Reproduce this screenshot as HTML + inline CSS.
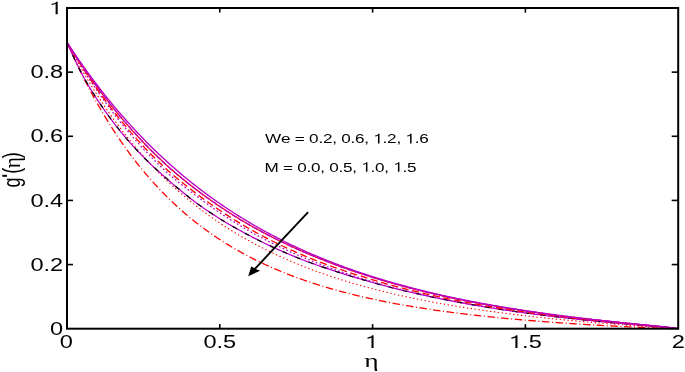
<!DOCTYPE html>
<html><head><meta charset="utf-8"><style>
html,body{margin:0;padding:0;background:#fff;}
svg{display:block;}
text{font-family:"Liberation Sans",sans-serif;fill:#000;}
text.serif{font-family:"Liberation Serif",serif;}
</style></head><body>
<svg width="685" height="372" viewBox="0 0 685 372">
<rect width="685" height="372" fill="#fff"/>
<g>
<polyline points="67.00,42.31 68.53,45.28 70.06,48.21 71.60,51.11 73.13,53.98 74.66,56.81 76.19,59.61 77.72,62.38 79.25,65.12 80.79,67.82 82.32,70.50 83.85,73.15 85.38,75.76 86.91,78.35 88.45,80.91 89.98,83.44 91.51,85.94 93.04,88.41 94.57,90.86 96.10,93.28 97.64,95.67 99.17,98.04 100.70,100.37 102.23,102.69 103.76,104.98 105.30,107.24 106.83,109.48 108.36,111.69 109.89,113.88 111.42,116.04 112.95,118.19 114.49,120.30 116.02,122.40 117.55,124.47 119.08,126.52 120.61,128.55 122.15,130.55 123.68,132.54 125.21,134.50 126.74,136.44 128.27,138.36 129.81,140.26 131.34,142.14 132.87,144.00 134.40,145.83 135.93,147.65 137.46,149.45 139.00,151.23 140.53,153.00 142.06,154.74 143.59,156.46 145.12,158.17 146.66,159.86 148.19,161.52 149.72,163.18 151.25,164.81 152.78,166.43 154.31,168.03 155.85,169.61 157.38,171.18 158.91,172.73 160.44,174.26 161.97,175.78 163.51,177.28 165.04,178.77 166.57,180.24 168.10,181.70 169.63,183.14 171.16,184.56 172.70,185.98 174.23,187.37 175.76,188.75 177.29,190.12 178.82,191.47 180.36,192.81 181.89,194.14 183.42,195.45 184.95,196.75 186.48,198.04 188.01,199.31 189.55,200.57 191.08,201.81 192.61,203.05 194.14,204.27 195.67,205.48 197.21,206.67 198.74,207.86 200.27,209.03 201.80,210.19 203.33,211.34 204.86,212.48 206.40,213.60 207.93,214.72 209.46,215.82 210.99,216.91 212.52,217.99 214.06,219.06 215.59,220.12 217.12,221.17 218.65,222.21 220.18,223.24 221.71,224.26 223.25,225.27 224.78,226.26 226.31,227.25 227.84,228.23 229.37,229.20 230.91,230.16 232.44,231.11 233.97,232.05 235.50,232.98 237.03,233.90 238.56,234.81 240.10,235.72 241.63,236.61 243.16,237.50 244.69,238.38 246.22,239.25 247.76,240.11 249.29,240.96 250.82,241.80 252.35,242.64 253.88,243.47 255.42,244.29 256.95,245.10 258.48,245.90 260.01,246.70 261.54,247.49 263.07,248.27 264.61,249.04 266.14,249.81 267.67,250.57 269.20,251.32 270.73,252.06 272.27,252.80 273.80,253.53 275.33,254.25 276.86,254.97 278.39,255.68 279.92,256.38 281.46,257.08 282.99,257.77 284.52,258.45 286.05,259.13 287.58,259.80 289.12,260.46 290.65,261.12 292.18,261.77 293.71,262.42 295.24,263.06 296.77,263.69 298.31,264.32 299.84,264.94 301.37,265.55 302.90,266.16 304.43,266.77 305.97,267.37 307.50,267.96 309.03,268.55 310.56,269.13 312.09,269.71 313.62,270.28 315.16,270.85 316.69,271.41 318.22,271.96 319.75,272.51 321.28,273.06 322.82,273.60 324.35,274.14 325.88,274.67 327.41,275.19 328.94,275.72 330.47,276.23 332.01,276.74 333.54,277.25 335.07,277.75 336.60,278.25 338.13,278.75 339.67,279.23 341.20,279.72 342.73,280.20 344.26,280.68 345.79,281.15 347.32,281.61 348.86,282.08 350.39,282.54 351.92,282.99 353.45,283.44 354.98,283.89 356.52,284.33 358.05,284.77 359.58,285.21 361.11,285.64 362.64,286.07 364.17,286.49 365.71,286.91 367.24,287.32 368.77,287.74 370.30,288.15 371.83,288.55 373.37,288.95 374.90,289.35 376.43,289.75 377.96,290.14 379.49,290.52 381.03,290.91 382.56,291.29 384.09,291.67 385.62,292.04 387.15,292.41 388.68,292.78 390.22,293.15 391.75,293.51 393.28,293.86 394.81,294.22 396.34,294.57 397.88,294.92 399.41,295.27 400.94,295.61 402.47,295.95 404.00,296.29 405.53,296.62 407.07,296.95 408.60,297.28 410.13,297.61 411.66,297.93 413.19,298.25 414.73,298.57 416.26,298.89 417.79,299.20 419.32,299.51 420.85,299.81 422.38,300.12 423.92,300.42 425.45,300.72 426.98,301.02 428.51,301.31 430.04,301.60 431.58,301.89 433.11,302.18 434.64,302.46 436.17,302.75 437.70,303.03 439.23,303.30 440.77,303.58 442.30,303.85 443.83,304.12 445.36,304.39 446.89,304.66 448.43,304.92 449.96,305.18 451.49,305.44 453.02,305.70 454.55,305.95 456.08,306.21 457.62,306.46 459.15,306.71 460.68,306.96 462.21,307.20 463.74,307.44 465.28,307.69 466.81,307.92 468.34,308.16 469.87,308.40 471.40,308.63 472.93,308.86 474.47,309.09 476.00,309.32 477.53,309.55 479.06,309.77 480.59,309.99 482.13,310.21 483.66,310.43 485.19,310.65 486.72,310.86 488.25,311.08 489.78,311.29 491.32,311.50 492.85,311.71 494.38,311.92 495.91,312.12 497.44,312.33 498.98,312.53 500.51,312.73 502.04,312.93 503.57,313.13 505.10,313.32 506.64,313.52 508.17,313.71 509.70,313.90 511.23,314.09 512.76,314.28 514.29,314.47 515.83,314.65 517.36,314.84 518.89,315.02 520.42,315.20 521.95,315.38 523.49,315.56 525.02,315.74 526.55,315.91 528.08,316.09 529.61,316.26 531.14,316.43 532.68,316.60 534.21,316.77 535.74,316.94 537.27,317.11 538.80,317.27 540.34,317.44 541.87,317.60 543.40,317.76 544.93,317.92 546.46,318.08 547.99,318.24 549.53,318.40 551.06,318.56 552.59,318.71 554.12,318.86 555.65,319.02 557.19,319.17 558.72,319.32 560.25,319.47 561.78,319.62 563.31,319.76 564.84,319.91 566.38,320.06 567.91,320.20 569.44,320.34 570.97,320.49 572.50,320.63 574.04,320.77 575.57,320.91 577.10,321.05 578.63,321.18 580.16,321.32 581.69,321.45 583.23,321.59 584.76,321.72 586.29,321.86 587.82,321.99 589.35,322.12 590.89,322.25 592.42,322.38 593.95,322.51 595.48,322.63 597.01,322.76 598.54,322.88 600.08,323.01 601.61,323.13 603.14,323.26 604.67,323.38 606.20,323.50 607.74,323.62 609.27,323.74 610.80,323.86 612.33,323.98 613.86,324.10 615.39,324.22 616.93,324.33 618.46,324.45 619.99,324.56 621.52,324.68 623.05,324.79 624.59,324.91 626.12,325.02 627.65,325.13 629.18,325.24 630.71,325.35 632.25,325.46 633.78,325.57 635.31,325.68 636.84,325.79 638.37,325.90 639.90,326.00 641.44,326.11 642.97,326.22 644.50,326.32 646.03,326.43 647.56,326.53 649.10,326.64 650.63,326.74 652.16,326.84 653.69,326.95 655.22,327.05 656.75,327.15 658.29,327.26 659.82,327.36 661.35,327.46 662.88,327.57 664.41,327.67 665.95,327.77 667.48,327.88 669.01,327.98 670.54,328.09 672.07,328.19 673.60,328.30 675.14,328.42 676.67,328.54 678.20,328.70" fill="none" stroke="#ff0000" stroke-width="1.2" stroke-dasharray="0.35 3.55" stroke-linecap="round" stroke-linejoin="round"/>
<polyline points="67.00,42.31 68.53,45.81 70.06,49.26 71.60,52.66 73.13,56.02 74.66,59.33 76.19,62.60 77.72,65.83 79.25,69.01 80.79,72.16 82.32,75.26 83.85,78.32 85.38,81.34 86.91,84.32 88.45,87.26 89.98,90.16 91.51,93.03 93.04,95.85 94.57,98.64 96.10,101.40 97.64,104.12 99.17,106.80 100.70,109.45 102.23,112.06 103.76,114.64 105.30,117.19 106.83,119.70 108.36,122.19 109.89,124.64 111.42,127.05 112.95,129.44 114.49,131.80 116.02,134.12 117.55,136.42 119.08,138.69 120.61,140.93 122.15,143.14 123.68,145.32 125.21,147.47 126.74,149.60 128.27,151.70 129.81,153.77 131.34,155.82 132.87,157.84 134.40,159.83 135.93,161.80 137.46,163.75 139.00,165.67 140.53,167.56 142.06,169.44 143.59,171.28 145.12,173.11 146.66,174.91 148.19,176.69 149.72,178.45 151.25,180.19 152.78,181.90 154.31,183.60 155.85,185.27 157.38,186.92 158.91,188.55 160.44,190.16 161.97,191.75 163.51,193.32 165.04,194.88 166.57,196.41 168.10,197.92 169.63,199.42 171.16,200.89 172.70,202.35 174.23,203.79 175.76,205.22 177.29,206.62 178.82,208.01 180.36,209.38 181.89,210.74 183.42,212.08 184.95,213.40 186.48,214.70 188.01,215.99 189.55,217.27 191.08,218.53 192.61,219.77 194.14,221.00 195.67,222.22 197.21,223.42 198.74,224.60 200.27,225.77 201.80,226.93 203.33,228.07 204.86,229.20 206.40,230.32 207.93,231.42 209.46,232.51 210.99,233.59 212.52,234.65 214.06,235.70 215.59,236.74 217.12,237.77 218.65,238.78 220.18,239.78 221.71,240.77 223.25,241.75 224.78,242.72 226.31,243.68 227.84,244.62 229.37,245.55 230.91,246.48 232.44,247.39 233.97,248.29 235.50,249.18 237.03,250.06 238.56,250.93 240.10,251.79 241.63,252.64 243.16,253.48 244.69,254.31 246.22,255.13 247.76,255.94 249.29,256.75 250.82,257.54 252.35,258.32 253.88,259.10 255.42,259.86 256.95,260.62 258.48,261.37 260.01,262.11 261.54,262.84 263.07,263.56 264.61,264.28 266.14,264.99 267.67,265.68 269.20,266.37 270.73,267.06 272.27,267.73 273.80,268.40 275.33,269.06 276.86,269.71 278.39,270.36 279.92,271.00 281.46,271.63 282.99,272.25 284.52,272.87 286.05,273.48 287.58,274.08 289.12,274.68 290.65,275.27 292.18,275.85 293.71,276.43 295.24,277.00 296.77,277.56 298.31,278.12 299.84,278.67 301.37,279.22 302.90,279.76 304.43,280.29 305.97,280.82 307.50,281.34 309.03,281.86 310.56,282.37 312.09,282.88 313.62,283.38 315.16,283.87 316.69,284.36 318.22,284.84 319.75,285.32 321.28,285.80 322.82,286.27 324.35,286.73 325.88,287.19 327.41,287.64 328.94,288.09 330.47,288.53 332.01,288.97 333.54,289.41 335.07,289.84 336.60,290.26 338.13,290.68 339.67,291.10 341.20,291.51 342.73,291.92 344.26,292.32 345.79,292.72 347.32,293.11 348.86,293.50 350.39,293.89 351.92,294.27 353.45,294.65 354.98,295.02 356.52,295.39 358.05,295.76 359.58,296.12 361.11,296.48 362.64,296.84 364.17,297.19 365.71,297.54 367.24,297.88 368.77,298.22 370.30,298.56 371.83,298.89 373.37,299.23 374.90,299.55 376.43,299.88 377.96,300.20 379.49,300.51 381.03,300.83 382.56,301.14 384.09,301.45 385.62,301.75 387.15,302.05 388.68,302.35 390.22,302.65 391.75,302.94 393.28,303.23 394.81,303.52 396.34,303.80 397.88,304.08 399.41,304.36 400.94,304.63 402.47,304.91 404.00,305.18 405.53,305.44 407.07,305.71 408.60,305.97 410.13,306.23 411.66,306.49 413.19,306.74 414.73,306.99 416.26,307.24 417.79,307.49 419.32,307.73 420.85,307.98 422.38,308.22 423.92,308.45 425.45,308.69 426.98,308.92 428.51,309.15 430.04,309.38 431.58,309.61 433.11,309.83 434.64,310.06 436.17,310.28 437.70,310.49 439.23,310.71 440.77,310.92 442.30,311.14 443.83,311.35 445.36,311.55 446.89,311.76 448.43,311.96 449.96,312.17 451.49,312.37 453.02,312.56 454.55,312.76 456.08,312.95 457.62,313.15 459.15,313.34 460.68,313.53 462.21,313.72 463.74,313.90 465.28,314.09 466.81,314.27 468.34,314.45 469.87,314.63 471.40,314.81 472.93,314.98 474.47,315.16 476.00,315.33 477.53,315.50 479.06,315.67 480.59,315.84 482.13,316.00 483.66,316.17 485.19,316.33 486.72,316.50 488.25,316.66 489.78,316.82 491.32,316.97 492.85,317.13 494.38,317.29 495.91,317.44 497.44,317.59 498.98,317.74 500.51,317.89 502.04,318.04 503.57,318.19 505.10,318.34 506.64,318.48 508.17,318.62 509.70,318.77 511.23,318.91 512.76,319.05 514.29,319.19 515.83,319.32 517.36,319.46 518.89,319.59 520.42,319.73 521.95,319.86 523.49,319.99 525.02,320.12 526.55,320.25 528.08,320.38 529.61,320.51 531.14,320.63 532.68,320.76 534.21,320.88 535.74,321.01 537.27,321.13 538.80,321.25 540.34,321.37 541.87,321.49 543.40,321.61 544.93,321.72 546.46,321.84 547.99,321.95 549.53,322.07 551.06,322.18 552.59,322.29 554.12,322.41 555.65,322.52 557.19,322.63 558.72,322.73 560.25,322.84 561.78,322.95 563.31,323.06 564.84,323.16 566.38,323.26 567.91,323.37 569.44,323.47 570.97,323.57 572.50,323.67 574.04,323.77 575.57,323.87 577.10,323.97 578.63,324.07 580.16,324.17 581.69,324.26 583.23,324.36 584.76,324.45 586.29,324.55 587.82,324.64 589.35,324.73 590.89,324.82 592.42,324.91 593.95,325.00 595.48,325.09 597.01,325.18 598.54,325.27 600.08,325.35 601.61,325.44 603.14,325.53 604.67,325.61 606.20,325.70 607.74,325.78 609.27,325.86 610.80,325.94 612.33,326.02 613.86,326.10 615.39,326.18 616.93,326.26 618.46,326.34 619.99,326.42 621.52,326.50 623.05,326.57 624.59,326.65 626.12,326.72 627.65,326.80 629.18,326.87 630.71,326.94 632.25,327.01 633.78,327.08 635.31,327.15 636.84,327.22 638.37,327.29 639.90,327.36 641.44,327.43 642.97,327.49 644.50,327.56 646.03,327.62 647.56,327.69 649.10,327.75 650.63,327.81 652.16,327.87 653.69,327.93 655.22,327.99 656.75,328.05 658.29,328.11 659.82,328.16 661.35,328.22 662.88,328.27 664.41,328.32 665.95,328.37 667.48,328.42 669.01,328.47 670.54,328.52 672.07,328.56 673.60,328.60 675.14,328.64 676.67,328.67 678.20,328.70" fill="none" stroke="#ff0000" stroke-width="1.3" stroke-dasharray="7.5 2.6 1 2.6" stroke-linecap="butt" stroke-linejoin="round"/>
<polyline points="67.00,42.31 68.53,45.81 70.06,49.24 71.60,52.62 73.13,55.94 74.66,59.20 76.19,62.40 77.72,65.54 79.25,68.62 80.79,71.64 82.32,74.58 83.85,77.44 85.38,80.22 86.91,82.91 88.45,85.53 89.98,88.08 91.51,90.57 93.04,93.00 94.57,95.38 96.10,97.72 97.64,100.03 99.17,102.33 100.70,104.63 102.23,106.89 103.76,109.11 105.30,111.31 106.83,113.46 108.36,115.59 109.89,117.68 111.42,119.74 112.95,121.78 114.49,123.78 116.02,125.76 117.55,127.70 119.08,129.63 120.61,131.52 122.15,133.39 123.68,135.24 125.21,137.06 126.74,138.86 128.27,140.63 129.81,142.38 131.34,144.11 132.87,145.82 134.40,147.50 135.93,149.17 137.46,150.81 139.00,152.43 140.53,154.03 142.06,155.61 143.59,157.17 145.12,158.71 146.66,160.23 148.19,161.73 149.72,163.21 151.25,164.67 152.78,166.11 154.31,167.53 155.85,168.94 157.38,170.33 158.91,171.71 160.44,173.08 161.97,174.44 163.51,175.80 165.04,177.16 166.57,178.51 168.10,179.87 169.63,181.21 171.16,182.55 172.70,183.87 174.23,185.19 175.76,186.49 177.29,187.78 178.82,189.07 180.36,190.34 181.89,191.60 183.42,192.85 184.95,194.09 186.48,195.31 188.01,196.53 189.55,197.73 191.08,198.91 192.61,200.09 194.14,201.25 195.67,202.39 197.21,203.52 198.74,204.64 200.27,205.74 201.80,206.83 203.33,207.91 204.86,208.97 206.40,210.02 207.93,211.06 209.46,212.09 210.99,213.10 212.52,214.11 214.06,215.10 215.59,216.08 217.12,217.06 218.65,218.02 220.18,218.97 221.71,219.92 223.25,220.85 224.78,221.77 226.31,222.69 227.84,223.60 229.37,224.50 230.91,225.39 232.44,226.27 233.97,227.14 235.50,228.01 237.03,228.87 238.56,229.72 240.10,230.56 241.63,231.40 243.16,232.23 244.69,233.06 246.22,233.88 247.76,234.69 249.29,235.50 250.82,236.30 252.35,237.09 253.88,237.88 255.42,238.66 256.95,239.43 258.48,240.20 260.01,240.97 261.54,241.72 263.07,242.47 264.61,243.22 266.14,243.95 267.67,244.68 269.20,245.41 270.73,246.13 272.27,246.84 273.80,247.55 275.33,248.25 276.86,248.95 278.39,249.64 279.92,250.32 281.46,251.00 282.99,251.67 284.52,252.33 286.05,252.99 287.58,253.65 289.12,254.29 290.65,254.94 292.18,255.57 293.71,256.20 295.24,256.83 296.77,257.45 298.31,258.06 299.84,258.67 301.37,259.27 302.90,259.87 304.43,260.46 305.97,261.05 307.50,261.62 309.03,262.20 310.56,262.77 312.09,263.33 313.62,263.89 315.16,264.44 316.69,264.99 318.22,265.53 319.75,266.07 321.28,266.60 322.82,267.13 324.35,267.65 325.88,268.17 327.41,268.69 328.94,269.20 330.47,269.71 332.01,270.21 333.54,270.71 335.07,271.21 336.60,271.70 338.13,272.19 339.67,272.68 341.20,273.16 342.73,273.64 344.26,274.12 345.79,274.59 347.32,275.06 348.86,275.53 350.39,276.00 351.92,276.46 353.45,276.92 354.98,277.38 356.52,277.83 358.05,278.28 359.58,278.73 361.11,279.18 362.64,279.63 364.17,280.07 365.71,280.51 367.24,280.95 368.77,281.39 370.30,281.82 371.83,282.26 373.37,282.69 374.90,283.11 376.43,283.54 377.96,283.96 379.49,284.38 381.03,284.79 382.56,285.20 384.09,285.61 385.62,286.02 387.15,286.42 388.68,286.82 390.22,287.21 391.75,287.61 393.28,288.00 394.81,288.38 396.34,288.77 397.88,289.15 399.41,289.53 400.94,289.91 402.47,290.28 404.00,290.65 405.53,291.02 407.07,291.38 408.60,291.74 410.13,292.10 411.66,292.46 413.19,292.82 414.73,293.17 416.26,293.52 417.79,293.87 419.32,294.21 420.85,294.55 422.38,294.89 423.92,295.23 425.45,295.57 426.98,295.90 428.51,296.23 430.04,296.56 431.58,296.88 433.11,297.21 434.64,297.53 436.17,297.85 437.70,298.17 439.23,298.48 440.77,298.79 442.30,299.10 443.83,299.41 445.36,299.72 446.89,300.02 448.43,300.33 449.96,300.63 451.49,300.93 453.02,301.22 454.55,301.52 456.08,301.81 457.62,302.10 459.15,302.38 460.68,302.67 462.21,302.95 463.74,303.23 465.28,303.51 466.81,303.79 468.34,304.06 469.87,304.33 471.40,304.60 472.93,304.87 474.47,305.14 476.00,305.40 477.53,305.66 479.06,305.92 480.59,306.18 482.13,306.44 483.66,306.69 485.19,306.94 486.72,307.19 488.25,307.44 489.78,307.69 491.32,307.93 492.85,308.17 494.38,308.42 495.91,308.65 497.44,308.89 498.98,309.13 500.51,309.36 502.04,309.59 503.57,309.82 505.10,310.05 506.64,310.28 508.17,310.50 509.70,310.73 511.23,310.95 512.76,311.17 514.29,311.39 515.83,311.61 517.36,311.82 518.89,312.04 520.42,312.25 521.95,312.46 523.49,312.67 525.02,312.88 526.55,313.08 528.08,313.29 529.61,313.49 531.14,313.69 532.68,313.89 534.21,314.09 535.74,314.29 537.27,314.49 538.80,314.68 540.34,314.87 541.87,315.07 543.40,315.26 544.93,315.45 546.46,315.63 547.99,315.82 549.53,316.01 551.06,316.19 552.59,316.37 554.12,316.55 555.65,316.73 557.19,316.91 558.72,317.09 560.25,317.27 561.78,317.44 563.31,317.62 564.84,317.79 566.38,317.96 567.91,318.13 569.44,318.30 570.97,318.47 572.50,318.64 574.04,318.81 575.57,318.97 577.10,319.14 578.63,319.30 580.16,319.46 581.69,319.62 583.23,319.78 584.76,319.94 586.29,320.10 587.82,320.26 589.35,320.41 590.89,320.57 592.42,320.72 593.95,320.88 595.48,321.03 597.01,321.18 598.54,321.33 600.08,321.48 601.61,321.63 603.14,321.78 604.67,321.92 606.20,322.07 607.74,322.22 609.27,322.36 610.80,322.51 612.33,322.65 613.86,322.79 615.39,322.93 616.93,323.07 618.46,323.21 619.99,323.35 621.52,323.49 623.05,323.63 624.59,323.77 626.12,323.91 627.65,324.04 629.18,324.18 630.71,324.31 632.25,324.45 633.78,324.58 635.31,324.72 636.84,324.85 638.37,324.99 639.90,325.12 641.44,325.25 642.97,325.38 644.50,325.52 646.03,325.65 647.56,325.78 649.10,325.91 650.63,326.04 652.16,326.17 653.69,326.31 655.22,326.44 656.75,326.57 658.29,326.70 659.82,326.84 661.35,326.97 662.88,327.11 664.41,327.24 665.95,327.38 667.48,327.52 669.01,327.66 670.54,327.81 672.07,327.95 673.60,328.11 675.14,328.27 676.67,328.45 678.20,328.70" fill="none" stroke="#b800c4" stroke-width="1.25" stroke-linecap="butt" stroke-linejoin="round"/>
<polyline points="67.00,42.31 68.53,45.81 70.06,49.24 71.60,52.62 73.13,55.94 74.66,59.20 76.19,62.40 77.72,65.54 79.25,68.62 80.79,71.64 82.32,74.58 83.85,77.44 85.38,80.22 86.91,82.91 88.45,85.53 89.98,88.08 91.51,90.57 93.04,93.00 94.57,95.38 96.10,97.72 97.64,100.03 99.17,102.33 100.70,104.63 102.23,106.89 103.76,109.11 105.30,111.31 106.83,113.46 108.36,115.59 109.89,117.68 111.42,119.74 112.95,121.78 114.49,123.78 116.02,125.76 117.55,127.70 119.08,129.63 120.61,131.52 122.15,133.39 123.68,135.24 125.21,137.06 126.74,138.86 128.27,140.63 129.81,142.38 131.34,144.11 132.87,145.82 134.40,147.50 135.93,149.17 137.46,150.81 139.00,152.43 140.53,154.03 142.06,155.61 143.59,157.17 145.12,158.71 146.66,160.23 148.19,161.73 149.72,163.21 151.25,164.67 152.78,166.11 154.31,167.53 155.85,168.94 157.38,170.33 158.91,171.71 160.44,173.08 161.97,174.44 163.51,175.80 165.04,177.16 166.57,178.51 168.10,179.87 169.63,181.21 171.16,182.55 172.70,183.87 174.23,185.19 175.76,186.49 177.29,187.78 178.82,189.07 180.36,190.34 181.89,191.60 183.42,192.85 184.95,194.09 186.48,195.31 188.01,196.53 189.55,197.73 191.08,198.91 192.61,200.09 194.14,201.25 195.67,202.39 197.21,203.52 198.74,204.64 200.27,205.74 201.80,206.83 203.33,207.91 204.86,208.97 206.40,210.02 207.93,211.06 209.46,212.09 210.99,213.10 212.52,214.11 214.06,215.10 215.59,216.08 217.12,217.06 218.65,218.02 220.18,218.97 221.71,219.92 223.25,220.85 224.78,221.77 226.31,222.69 227.84,223.60 229.37,224.50 230.91,225.39 232.44,226.27 233.97,227.14 235.50,228.01 237.03,228.87 238.56,229.72 240.10,230.56 241.63,231.40 243.16,232.23 244.69,233.06 246.22,233.88 247.76,234.69 249.29,235.50 250.82,236.30 252.35,237.09 253.88,237.88 255.42,238.66 256.95,239.43 258.48,240.20 260.01,240.97 261.54,241.72 263.07,242.47 264.61,243.22 266.14,243.95 267.67,244.68 269.20,245.41 270.73,246.13 272.27,246.84 273.80,247.55 275.33,248.25 276.86,248.95 278.39,249.64 279.92,250.32 281.46,251.00 282.99,251.67 284.52,252.33 286.05,252.99 287.58,253.65 289.12,254.29 290.65,254.94 292.18,255.57 293.71,256.20 295.24,256.83 296.77,257.45 298.31,258.06 299.84,258.67 301.37,259.27 302.90,259.87 304.43,260.46 305.97,261.05 307.50,261.62 309.03,262.20 310.56,262.77 312.09,263.33 313.62,263.89 315.16,264.44 316.69,264.99 318.22,265.53 319.75,266.07 321.28,266.60 322.82,267.13 324.35,267.65 325.88,268.17 327.41,268.69 328.94,269.20 330.47,269.71 332.01,270.21 333.54,270.71 335.07,271.21 336.60,271.70 338.13,272.19 339.67,272.68 341.20,273.16 342.73,273.64 344.26,274.12 345.79,274.59 347.32,275.06 348.86,275.53 350.39,276.00 351.92,276.46 353.45,276.92 354.98,277.38 356.52,277.83 358.05,278.28 359.58,278.73 361.11,279.18 362.64,279.63 364.17,280.07 365.71,280.51 367.24,280.95 368.77,281.39 370.30,281.82 371.83,282.26 373.37,282.69 374.90,283.11 376.43,283.54 377.96,283.96 379.49,284.38 381.03,284.79 382.56,285.20 384.09,285.61 385.62,286.02 387.15,286.42 388.68,286.82 390.22,287.21 391.75,287.61 393.28,288.00 394.81,288.38 396.34,288.77 397.88,289.15 399.41,289.53 400.94,289.91 402.47,290.28 404.00,290.65 405.53,291.02 407.07,291.38 408.60,291.74 410.13,292.10 411.66,292.46 413.19,292.82 414.73,293.17 416.26,293.52 417.79,293.87 419.32,294.21 420.85,294.55 422.38,294.89 423.92,295.23 425.45,295.57 426.98,295.90 428.51,296.23 430.04,296.56 431.58,296.88 433.11,297.21 434.64,297.53 436.17,297.85 437.70,298.17 439.23,298.48 440.77,298.79 442.30,299.10 443.83,299.41 445.36,299.72 446.89,300.02 448.43,300.33 449.96,300.63 451.49,300.93 453.02,301.22 454.55,301.52 456.08,301.81 457.62,302.10 459.15,302.38 460.68,302.67 462.21,302.95 463.74,303.23 465.28,303.51 466.81,303.79 468.34,304.06 469.87,304.33 471.40,304.60 472.93,304.87 474.47,305.14 476.00,305.40 477.53,305.66 479.06,305.92 480.59,306.18 482.13,306.44 483.66,306.69 485.19,306.94 486.72,307.19 488.25,307.44 489.78,307.69 491.32,307.93 492.85,308.17 494.38,308.42 495.91,308.65 497.44,308.89 498.98,309.13 500.51,309.36 502.04,309.59 503.57,309.82 505.10,310.05 506.64,310.28 508.17,310.50 509.70,310.73 511.23,310.95 512.76,311.17 514.29,311.39 515.83,311.61 517.36,311.82 518.89,312.04 520.42,312.25 521.95,312.46 523.49,312.67 525.02,312.88 526.55,313.08 528.08,313.29 529.61,313.49 531.14,313.69 532.68,313.89 534.21,314.09 535.74,314.29 537.27,314.49 538.80,314.68 540.34,314.87 541.87,315.07 543.40,315.26 544.93,315.45 546.46,315.63 547.99,315.82 549.53,316.01 551.06,316.19 552.59,316.37 554.12,316.55 555.65,316.73 557.19,316.91 558.72,317.09 560.25,317.27 561.78,317.44 563.31,317.62 564.84,317.79 566.38,317.96 567.91,318.13 569.44,318.30 570.97,318.47 572.50,318.64 574.04,318.81 575.57,318.97 577.10,319.14 578.63,319.30 580.16,319.46 581.69,319.62 583.23,319.78 584.76,319.94 586.29,320.10 587.82,320.26 589.35,320.41 590.89,320.57 592.42,320.72 593.95,320.88 595.48,321.03 597.01,321.18 598.54,321.33 600.08,321.48 601.61,321.63 603.14,321.78 604.67,321.92 606.20,322.07 607.74,322.22 609.27,322.36 610.80,322.51 612.33,322.65 613.86,322.79 615.39,322.93 616.93,323.07 618.46,323.21 619.99,323.35 621.52,323.49 623.05,323.63 624.59,323.77 626.12,323.91 627.65,324.04 629.18,324.18 630.71,324.31 632.25,324.45 633.78,324.58 635.31,324.72 636.84,324.85 638.37,324.99 639.90,325.12 641.44,325.25 642.97,325.38 644.50,325.52 646.03,325.65 647.56,325.78 649.10,325.91 650.63,326.04 652.16,326.17 653.69,326.31 655.22,326.44 656.75,326.57 658.29,326.70 659.82,326.84 661.35,326.97 662.88,327.11 664.41,327.24 665.95,327.38 667.48,327.52 669.01,327.66 670.54,327.81 672.07,327.95 673.60,328.11 675.14,328.27 676.67,328.45 678.20,328.70" fill="none" stroke="#000" stroke-width="1.2" stroke-dasharray="5 9" stroke-linecap="butt" stroke-linejoin="round"/>
<polyline points="67.00,42.31 68.53,45.02 70.06,47.69 71.60,50.33 73.13,52.95 74.66,55.55 76.19,58.11 77.72,60.65 79.25,63.17 80.79,65.66 82.32,68.12 83.85,70.56 85.38,72.98 86.91,75.37 88.45,77.73 89.98,80.08 91.51,82.40 93.04,84.69 94.57,86.97 96.10,89.22 97.64,91.45 99.17,93.65 100.70,95.84 102.23,98.00 103.76,100.14 105.30,102.26 106.83,104.36 108.36,106.44 109.89,108.50 111.42,110.54 112.95,112.56 114.49,114.56 116.02,116.54 117.55,118.50 119.08,120.44 120.61,122.36 122.15,124.26 123.68,126.15 125.21,128.01 126.74,129.86 128.27,131.69 129.81,133.50 131.34,135.30 132.87,137.08 134.40,138.84 135.93,140.58 137.46,142.31 139.00,144.02 140.53,145.71 142.06,147.39 143.59,149.05 145.12,150.70 146.66,152.33 148.19,153.94 149.72,155.54 151.25,157.12 152.78,158.69 154.31,160.25 155.85,161.78 157.38,163.31 158.91,164.82 160.44,166.31 161.97,167.79 163.51,169.23 165.04,170.65 166.57,172.04 168.10,173.41 169.63,174.76 171.16,176.09 172.70,177.40 174.23,178.68 175.76,179.95 177.29,181.21 178.82,182.45 180.36,183.67 181.89,184.88 183.42,186.08 184.95,187.27 186.48,188.45 188.01,189.62 189.55,190.78 191.08,191.94 192.61,193.09 194.14,194.24 195.67,195.39 197.21,196.54 198.74,197.69 200.27,198.84 201.80,199.98 203.33,201.11 204.86,202.24 206.40,203.35 207.93,204.46 209.46,205.56 210.99,206.65 212.52,207.72 214.06,208.79 215.59,209.85 217.12,210.91 218.65,211.95 220.18,212.98 221.71,214.01 223.25,215.03 224.78,216.03 226.31,217.03 227.84,218.02 229.37,219.01 230.91,219.98 232.44,220.95 233.97,221.90 235.50,222.85 237.03,223.79 238.56,224.72 240.10,225.64 241.63,226.56 243.16,227.47 244.69,228.36 246.22,229.25 247.76,230.14 249.29,231.01 250.82,231.88 252.35,232.73 253.88,233.58 255.42,234.43 256.95,235.26 258.48,236.09 260.01,236.91 261.54,237.72 263.07,238.53 264.61,239.33 266.14,240.12 267.67,240.91 269.20,241.69 270.73,242.46 272.27,243.22 273.80,243.98 275.33,244.73 276.86,245.48 278.39,246.22 279.92,246.95 281.46,247.68 282.99,248.40 284.52,249.11 286.05,249.82 287.58,250.52 289.12,251.22 290.65,251.91 292.18,252.59 293.71,253.27 295.24,253.94 296.77,254.61 298.31,255.27 299.84,255.93 301.37,256.58 302.90,257.23 304.43,257.87 305.97,258.50 307.50,259.13 309.03,259.76 310.56,260.38 312.09,260.99 313.62,261.60 315.16,262.21 316.69,262.81 318.22,263.40 319.75,263.99 321.28,264.58 322.82,265.16 324.35,265.74 325.88,266.31 327.41,266.88 328.94,267.44 330.47,268.00 332.01,268.55 333.54,269.10 335.07,269.65 336.60,270.19 338.13,270.73 339.67,271.26 341.20,271.79 342.73,272.32 344.26,272.84 345.79,273.36 347.32,273.87 348.86,274.38 350.39,274.89 351.92,275.39 353.45,275.88 354.98,276.38 356.52,276.87 358.05,277.35 359.58,277.84 361.11,278.31 362.64,278.79 364.17,279.26 365.71,279.72 367.24,280.19 368.77,280.64 370.30,281.10 371.83,281.55 373.37,282.00 374.90,282.44 376.43,282.88 377.96,283.32 379.49,283.75 381.03,284.18 382.56,284.61 384.09,285.03 385.62,285.45 387.15,285.87 388.68,286.28 390.22,286.69 391.75,287.10 393.28,287.50 394.81,287.90 396.34,288.30 397.88,288.70 399.41,289.09 400.94,289.47 402.47,289.86 404.00,290.24 405.53,290.62 407.07,290.99 408.60,291.37 410.13,291.74 411.66,292.10 413.19,292.47 414.73,292.83 416.26,293.19 417.79,293.54 419.32,293.89 420.85,294.24 422.38,294.59 423.92,294.94 425.45,295.28 426.98,295.62 428.51,295.95 430.04,296.29 431.58,296.62 433.11,296.95 434.64,297.27 436.17,297.60 437.70,297.92 439.23,298.24 440.77,298.55 442.30,298.87 443.83,299.18 445.36,299.49 446.89,299.79 448.43,300.10 449.96,300.40 451.49,300.70 453.02,300.99 454.55,301.29 456.08,301.58 457.62,301.87 459.15,302.16 460.68,302.45 462.21,302.73 463.74,303.01 465.28,303.29 466.81,303.57 468.34,303.84 469.87,304.12 471.40,304.39 472.93,304.66 474.47,304.92 476.00,305.19 477.53,305.45 479.06,305.71 480.59,305.97 482.13,306.23 483.66,306.48 485.19,306.74 486.72,306.99 488.25,307.24 489.78,307.49 491.32,307.73 492.85,307.98 494.38,308.22 495.91,308.46 497.44,308.70 498.98,308.93 500.51,309.17 502.04,309.40 503.57,309.63 505.10,309.86 506.64,310.09 508.17,310.32 509.70,310.54 511.23,310.77 512.76,310.99 514.29,311.21 515.83,311.43 517.36,311.64 518.89,311.86 520.42,312.07 521.95,312.29 523.49,312.50 525.02,312.71 526.55,312.91 528.08,313.12 529.61,313.32 531.14,313.53 532.68,313.73 534.21,313.93 535.74,314.13 537.27,314.33 538.80,314.52 540.34,314.72 541.87,314.91 543.40,315.10 544.93,315.29 546.46,315.48 547.99,315.67 549.53,315.86 551.06,316.04 552.59,316.23 554.12,316.41 555.65,316.59 557.19,316.77 558.72,316.95 560.25,317.13 561.78,317.31 563.31,317.48 564.84,317.66 566.38,317.83 567.91,318.00 569.44,318.18 570.97,318.35 572.50,318.51 574.04,318.68 575.57,318.85 577.10,319.02 578.63,319.18 580.16,319.34 581.69,319.51 583.23,319.67 584.76,319.83 586.29,319.99 587.82,320.15 589.35,320.30 590.89,320.46 592.42,320.62 593.95,320.77 595.48,320.93 597.01,321.08 598.54,321.23 600.08,321.38 601.61,321.53 603.14,321.68 604.67,321.83 606.20,321.98 607.74,322.13 609.27,322.27 610.80,322.42 612.33,322.56 613.86,322.71 615.39,322.85 616.93,322.99 618.46,323.13 619.99,323.27 621.52,323.42 623.05,323.56 624.59,323.69 626.12,323.83 627.65,323.97 629.18,324.11 630.71,324.25 632.25,324.38 633.78,324.52 635.31,324.65 636.84,324.79 638.37,324.93 639.90,325.06 641.44,325.19 642.97,325.33 644.50,325.46 646.03,325.60 647.56,325.73 649.10,325.86 650.63,326.00 652.16,326.13 653.69,326.26 655.22,326.40 656.75,326.53 658.29,326.67 659.82,326.80 661.35,326.94 662.88,327.07 664.41,327.21 665.95,327.35 667.48,327.49 669.01,327.64 670.54,327.79 672.07,327.94 673.60,328.10 675.14,328.26 676.67,328.45 678.20,328.70" fill="none" stroke="#b800c4" stroke-width="1.3" stroke-dasharray="0.6 3.4" stroke-linecap="round" stroke-linejoin="round"/>
<polyline points="67.00,42.31 68.53,44.92 70.06,47.51 71.60,50.06 73.13,52.60 74.66,55.11 76.19,57.59 77.72,60.05 79.25,62.49 80.79,64.90 82.32,67.29 83.85,69.66 85.38,72.01 86.91,74.33 88.45,76.63 89.98,78.91 91.51,81.16 93.04,83.40 94.57,85.61 96.10,87.81 97.64,89.98 99.17,92.13 100.70,94.26 102.23,96.37 103.76,98.46 105.30,100.53 106.83,102.58 108.36,104.62 109.89,106.63 111.42,108.63 112.95,110.60 114.49,112.56 116.02,114.50 117.55,116.42 119.08,118.32 120.61,120.21 122.15,122.07 123.68,123.92 125.21,125.76 126.74,127.57 128.27,129.37 129.81,131.15 131.34,132.92 132.87,134.67 134.40,136.40 135.93,138.12 137.46,139.82 139.00,141.51 140.53,143.18 142.06,144.83 143.59,146.47 145.12,148.10 146.66,149.71 148.19,151.30 149.72,152.88 151.25,154.45 152.78,156.00 154.31,157.54 155.85,159.06 157.38,160.57 158.91,162.07 160.44,163.55 161.97,165.01 163.51,166.45 165.04,167.87 166.57,169.27 168.10,170.65 169.63,172.01 171.16,173.36 172.70,174.68 174.23,175.99 175.76,177.29 177.29,178.56 178.82,179.83 180.36,181.08 181.89,182.32 183.42,183.54 184.95,184.76 186.48,185.96 188.01,187.16 189.55,188.34 191.08,189.52 192.61,190.69 194.14,191.86 195.67,193.02 197.21,194.17 198.74,195.32 200.27,196.47 201.80,197.61 203.33,198.74 204.86,199.86 206.40,200.97 207.93,202.08 209.46,203.17 210.99,204.25 212.52,205.33 214.06,206.40 215.59,207.46 217.12,208.51 218.65,209.55 220.18,210.58 221.71,211.60 223.25,212.62 224.78,213.62 226.31,214.62 227.84,215.61 229.37,216.60 230.91,217.57 232.44,218.54 233.97,219.49 235.50,220.44 237.03,221.39 238.56,222.32 240.10,223.25 241.63,224.17 243.16,225.08 244.69,225.98 246.22,226.88 247.76,227.77 249.29,228.65 250.82,229.52 252.35,230.39 253.88,231.25 255.42,232.10 256.95,232.95 258.48,233.78 260.01,234.61 261.54,235.44 263.07,236.25 264.61,237.06 266.14,237.87 267.67,238.66 269.20,239.45 270.73,240.24 272.27,241.01 273.80,241.78 275.33,242.54 276.86,243.30 278.39,244.05 279.92,244.79 281.46,245.53 282.99,246.26 284.52,246.99 286.05,247.70 287.58,248.42 289.12,249.12 290.65,249.82 292.18,250.51 293.71,251.20 295.24,251.88 296.77,252.56 298.31,253.23 299.84,253.89 301.37,254.55 302.90,255.20 304.43,255.84 305.97,256.48 307.50,257.11 309.03,257.74 310.56,258.36 312.09,258.97 313.62,259.58 315.16,260.19 316.69,260.78 318.22,261.38 319.75,261.96 321.28,262.55 322.82,263.13 324.35,263.70 325.88,264.27 327.41,264.83 328.94,265.39 330.47,265.94 332.01,266.49 333.54,267.04 335.07,267.58 336.60,268.12 338.13,268.65 339.67,269.18 341.20,269.71 342.73,270.23 344.26,270.75 345.79,271.26 347.32,271.78 348.86,272.28 350.39,272.79 351.92,273.29 353.45,273.79 354.98,274.29 356.52,274.78 358.05,275.27 359.58,275.76 361.11,276.24 362.64,276.72 364.17,277.20 365.71,277.68 367.24,278.15 368.77,278.62 370.30,279.09 371.83,279.56 373.37,280.02 374.90,280.48 376.43,280.94 377.96,281.39 379.49,281.84 381.03,282.28 382.56,282.72 384.09,283.16 385.62,283.60 387.15,284.03 388.68,284.46 390.22,284.88 391.75,285.30 393.28,285.72 394.81,286.14 396.34,286.55 397.88,286.96 399.41,287.36 400.94,287.77 402.47,288.16 404.00,288.56 405.53,288.95 407.07,289.34 408.60,289.73 410.13,290.11 411.66,290.49 413.19,290.87 414.73,291.25 416.26,291.62 417.79,291.99 419.32,292.35 420.85,292.72 422.38,293.08 423.92,293.43 425.45,293.79 426.98,294.14 428.51,294.49 430.04,294.84 431.58,295.18 433.11,295.52 434.64,295.86 436.17,296.20 437.70,296.53 439.23,296.86 440.77,297.19 442.30,297.52 443.83,297.84 445.36,298.16 446.89,298.48 448.43,298.80 449.96,299.11 451.49,299.42 453.02,299.73 454.55,300.04 456.08,300.34 457.62,300.64 459.15,300.94 460.68,301.24 462.21,301.54 463.74,301.83 465.28,302.12 466.81,302.41 468.34,302.69 469.87,302.98 471.40,303.26 472.93,303.54 474.47,303.82 476.00,304.09 477.53,304.37 479.06,304.64 480.59,304.91 482.13,305.18 483.66,305.44 485.19,305.71 486.72,305.97 488.25,306.23 489.78,306.49 491.32,306.74 492.85,307.00 494.38,307.25 495.91,307.50 497.44,307.75 498.98,307.99 500.51,308.24 502.04,308.48 503.57,308.72 505.10,308.96 506.64,309.20 508.17,309.44 509.70,309.67 511.23,309.90 512.76,310.13 514.29,310.36 515.83,310.59 517.36,310.82 518.89,311.04 520.42,311.26 521.95,311.48 523.49,311.70 525.02,311.92 526.55,312.14 528.08,312.35 529.61,312.57 531.14,312.78 532.68,312.99 534.21,313.20 535.74,313.40 537.27,313.61 538.80,313.82 540.34,314.02 541.87,314.22 543.40,314.42 544.93,314.62 546.46,314.82 547.99,315.01 549.53,315.21 551.06,315.40 552.59,315.59 554.12,315.78 555.65,315.97 557.19,316.16 558.72,316.35 560.25,316.54 561.78,316.72 563.31,316.90 564.84,317.09 566.38,317.27 567.91,317.45 569.44,317.62 570.97,317.80 572.50,317.98 574.04,318.15 575.57,318.33 577.10,318.50 578.63,318.67 580.16,318.84 581.69,319.01 583.23,319.18 584.76,319.35 586.29,319.52 587.82,319.68 589.35,319.85 590.89,320.01 592.42,320.17 593.95,320.33 595.48,320.49 597.01,320.65 598.54,320.81 600.08,320.97 601.61,321.13 603.14,321.28 604.67,321.44 606.20,321.59 607.74,321.75 609.27,321.90 610.80,322.05 612.33,322.20 613.86,322.36 615.39,322.51 616.93,322.65 618.46,322.80 619.99,322.95 621.52,323.10 623.05,323.24 624.59,323.39 626.12,323.54 627.65,323.68 629.18,323.83 630.71,323.97 632.25,324.11 633.78,324.26 635.31,324.40 636.84,324.54 638.37,324.68 639.90,324.82 641.44,324.96 642.97,325.11 644.50,325.25 646.03,325.39 647.56,325.53 649.10,325.67 650.63,325.81 652.16,325.95 653.69,326.09 655.22,326.23 656.75,326.38 658.29,326.52 659.82,326.66 661.35,326.81 662.88,326.95 664.41,327.10 665.95,327.25 667.48,327.40 669.01,327.55 670.54,327.71 672.07,327.87 673.60,328.04 675.14,328.23 676.67,328.43 678.20,328.70" fill="none" stroke="#ff0000" stroke-width="1.3" stroke-dasharray="7 3.7" stroke-linecap="butt" stroke-linejoin="round"/>
<polyline points="67.00,42.31 68.53,44.79 70.06,47.23 71.60,49.66 73.13,52.06 74.66,54.45 76.19,56.81 77.72,59.15 79.25,61.47 80.79,63.77 82.32,66.05 83.85,68.31 85.38,70.55 86.91,72.77 88.45,74.97 89.98,77.15 91.51,79.32 93.04,81.46 94.57,83.58 96.10,85.69 97.64,87.77 99.17,89.84 100.70,91.89 102.23,93.93 103.76,95.94 105.30,97.94 106.83,99.92 108.36,101.88 109.89,103.82 111.42,105.75 112.95,107.66 114.49,109.56 116.02,111.44 117.55,113.30 119.08,115.15 120.61,116.98 122.15,118.79 123.68,120.59 125.21,122.37 126.74,124.14 128.27,125.89 129.81,127.63 131.34,129.35 132.87,131.06 134.40,132.75 135.93,134.43 137.46,136.09 139.00,137.74 140.53,139.38 142.06,141.00 143.59,142.61 145.12,144.20 146.66,145.78 148.19,147.35 149.72,148.90 151.25,150.44 152.78,151.96 154.31,153.48 155.85,154.98 157.38,156.47 158.91,157.94 160.44,159.40 161.97,160.85 163.51,162.28 165.04,163.70 166.57,165.09 168.10,166.48 169.63,167.85 171.16,169.20 172.70,170.54 174.23,171.87 175.76,173.18 177.29,174.48 178.82,175.76 180.36,177.04 181.89,178.30 183.42,179.55 184.95,180.79 186.48,182.02 188.01,183.24 189.55,184.44 191.08,185.64 192.61,186.83 194.14,188.01 195.67,189.18 197.21,190.34 198.74,191.50 200.27,192.65 201.80,193.79 203.33,194.92 204.86,196.04 206.40,197.15 207.93,198.25 209.46,199.34 210.99,200.43 212.52,201.50 214.06,202.57 215.59,203.63 217.12,204.68 218.65,205.72 220.18,206.75 221.71,207.77 223.25,208.79 224.78,209.80 226.31,210.80 227.84,211.79 229.37,212.77 230.91,213.74 232.44,214.71 233.97,215.67 235.50,216.62 237.03,217.56 238.56,218.50 240.10,219.43 241.63,220.35 243.16,221.26 244.69,222.17 246.22,223.06 247.76,223.95 249.29,224.84 250.82,225.71 252.35,226.58 253.88,227.44 255.42,228.30 256.95,229.14 258.48,229.98 260.01,230.82 261.54,231.64 263.07,232.46 264.61,233.27 266.14,234.08 267.67,234.88 269.20,235.67 270.73,236.46 272.27,237.24 273.80,238.01 275.33,238.78 276.86,239.54 278.39,240.30 279.92,241.05 281.46,241.79 282.99,242.53 284.52,243.26 286.05,243.99 287.58,244.71 289.12,245.43 290.65,246.14 292.18,246.84 293.71,247.54 295.24,248.23 296.77,248.92 298.31,249.60 299.84,250.28 301.37,250.96 302.90,251.62 304.43,252.29 305.97,252.95 307.50,253.60 309.03,254.25 310.56,254.89 312.09,255.53 313.62,256.17 315.16,256.80 316.69,257.42 318.22,258.04 319.75,258.66 321.28,259.27 322.82,259.88 324.35,260.49 325.88,261.08 327.41,261.68 328.94,262.27 330.47,262.86 332.01,263.44 333.54,264.02 335.07,264.59 336.60,265.16 338.13,265.73 339.67,266.29 341.20,266.84 342.73,267.40 344.26,267.94 345.79,268.49 347.32,269.03 348.86,269.56 350.39,270.09 351.92,270.62 353.45,271.15 354.98,271.67 356.52,272.18 358.05,272.69 359.58,273.20 361.11,273.70 362.64,274.21 364.17,274.70 365.71,275.19 367.24,275.68 368.77,276.17 370.30,276.65 371.83,277.13 373.37,277.61 374.90,278.08 376.43,278.55 377.96,279.01 379.49,279.47 381.03,279.93 382.56,280.39 384.09,280.84 385.62,281.29 387.15,281.74 388.68,282.18 390.22,282.62 391.75,283.05 393.28,283.49 394.81,283.92 396.34,284.34 397.88,284.77 399.41,285.19 400.94,285.61 402.47,286.02 404.00,286.43 405.53,286.84 407.07,287.25 408.60,287.65 410.13,288.05 411.66,288.45 413.19,288.84 414.73,289.23 416.26,289.62 417.79,290.00 419.32,290.39 420.85,290.76 422.38,291.14 423.92,291.51 425.45,291.88 426.98,292.25 428.51,292.61 430.04,292.98 431.58,293.34 433.11,293.69 434.64,294.05 436.17,294.40 437.70,294.75 439.23,295.09 440.77,295.43 442.30,295.78 443.83,296.11 445.36,296.45 446.89,296.78 448.43,297.11 449.96,297.44 451.49,297.77 453.02,298.09 454.55,298.41 456.08,298.73 457.62,299.04 459.15,299.36 460.68,299.67 462.21,299.98 463.74,300.28 465.28,300.59 466.81,300.89 468.34,301.19 469.87,301.49 471.40,301.78 472.93,302.08 474.47,302.37 476.00,302.66 477.53,302.94 479.06,303.23 480.59,303.51 482.13,303.79 483.66,304.07 485.19,304.35 486.72,304.62 488.25,304.89 489.78,305.16 491.32,305.43 492.85,305.70 494.38,305.96 495.91,306.23 497.44,306.49 498.98,306.75 500.51,307.00 502.04,307.26 503.57,307.51 505.10,307.76 506.64,308.01 508.17,308.26 509.70,308.51 511.23,308.75 512.76,308.99 514.29,309.23 515.83,309.47 517.36,309.71 518.89,309.95 520.42,310.18 521.95,310.41 523.49,310.64 525.02,310.87 526.55,311.10 528.08,311.33 529.61,311.55 531.14,311.77 532.68,311.99 534.21,312.21 535.74,312.43 537.27,312.65 538.80,312.86 540.34,313.08 541.87,313.29 543.40,313.50 544.93,313.71 546.46,313.92 547.99,314.13 549.53,314.33 551.06,314.53 552.59,314.74 554.12,314.94 555.65,315.14 557.19,315.34 558.72,315.53 560.25,315.73 561.78,315.92 563.31,316.12 564.84,316.31 566.38,316.50 567.91,316.69 569.44,316.88 570.97,317.06 572.50,317.25 574.04,317.43 575.57,317.62 577.10,317.80 578.63,317.98 580.16,318.16 581.69,318.34 583.23,318.52 584.76,318.70 586.29,318.87 587.82,319.05 589.35,319.22 590.89,319.39 592.42,319.57 593.95,319.74 595.48,319.91 597.01,320.07 598.54,320.24 600.08,320.41 601.61,320.58 603.14,320.74 604.67,320.91 606.20,321.07 607.74,321.23 609.27,321.39 610.80,321.56 612.33,321.72 613.86,321.88 615.39,322.03 616.93,322.19 618.46,322.35 619.99,322.51 621.52,322.66 623.05,322.82 624.59,322.97 626.12,323.13 627.65,323.28 629.18,323.44 630.71,323.59 632.25,323.74 633.78,323.89 635.31,324.05 636.84,324.20 638.37,324.35 639.90,324.50 641.44,324.65 642.97,324.80 644.50,324.95 646.03,325.10 647.56,325.25 649.10,325.40 650.63,325.55 652.16,325.70 653.69,325.86 655.22,326.01 656.75,326.16 658.29,326.32 659.82,326.47 661.35,326.63 662.88,326.78 664.41,326.94 665.95,327.10 667.48,327.27 669.01,327.44 670.54,327.61 672.07,327.79 673.60,327.97 675.14,328.17 676.67,328.39 678.20,328.70" fill="none" stroke="#ff0000" stroke-width="1.25" stroke-linecap="butt" stroke-linejoin="round"/>
<polyline points="67.00,42.31 68.53,44.79 70.06,47.23 71.60,49.66 73.13,52.06 74.66,54.45 76.19,56.81 77.72,59.15 79.25,61.47 80.79,63.77 82.32,66.05 83.85,68.31 85.38,70.55 86.91,72.77 88.45,74.97 89.98,77.15 91.51,79.32 93.04,81.46 94.57,83.58 96.10,85.69 97.64,87.77 99.17,89.84 100.70,91.89 102.23,93.93 103.76,95.94 105.30,97.94 106.83,99.92 108.36,101.88 109.89,103.82 111.42,105.75 112.95,107.66 114.49,109.56 116.02,111.44 117.55,113.30 119.08,115.15 120.61,116.98 122.15,118.79 123.68,120.59 125.21,122.37 126.74,124.14 128.27,125.89 129.81,127.63 131.34,129.35 132.87,131.06 134.40,132.75 135.93,134.43 137.46,136.09 139.00,137.74 140.53,139.38 142.06,141.00 143.59,142.61 145.12,144.20 146.66,145.78 148.19,147.35 149.72,148.90 151.25,150.44 152.78,151.96 154.31,153.48 155.85,154.98 157.38,156.47 158.91,157.94 160.44,159.40 161.97,160.85 163.51,162.28 165.04,163.70 166.57,165.09 168.10,166.48 169.63,167.85 171.16,169.20 172.70,170.54 174.23,171.87 175.76,173.18 177.29,174.48 178.82,175.76 180.36,177.04 181.89,178.30 183.42,179.55 184.95,180.79 186.48,182.02 188.01,183.24 189.55,184.44 191.08,185.64 192.61,186.83 194.14,188.01 195.67,189.18 197.21,190.34 198.74,191.50 200.27,192.65 201.80,193.79 203.33,194.92 204.86,196.04 206.40,197.15 207.93,198.25 209.46,199.34 210.99,200.43 212.52,201.50 214.06,202.57 215.59,203.63 217.12,204.68 218.65,205.72 220.18,206.75 221.71,207.77 223.25,208.79 224.78,209.80 226.31,210.80 227.84,211.79 229.37,212.77 230.91,213.74 232.44,214.71 233.97,215.67 235.50,216.62 237.03,217.56 238.56,218.50 240.10,219.43 241.63,220.35 243.16,221.26 244.69,222.17 246.22,223.06 247.76,223.95 249.29,224.84 250.82,225.71 252.35,226.58 253.88,227.44 255.42,228.30 256.95,229.14 258.48,229.98 260.01,230.82 261.54,231.64 263.07,232.46 264.61,233.27 266.14,234.08 267.67,234.88 269.20,235.67 270.73,236.46 272.27,237.24 273.80,238.01 275.33,238.78 276.86,239.54 278.39,240.30 279.92,241.05 281.46,241.79 282.99,242.53 284.52,243.26 286.05,243.99 287.58,244.71 289.12,245.43 290.65,246.14 292.18,246.84 293.71,247.54 295.24,248.23 296.77,248.92 298.31,249.60 299.84,250.28 301.37,250.96 302.90,251.62 304.43,252.29 305.97,252.95 307.50,253.60 309.03,254.25 310.56,254.89 312.09,255.53 313.62,256.17 315.16,256.80 316.69,257.42 318.22,258.04 319.75,258.66 321.28,259.27 322.82,259.88 324.35,260.49 325.88,261.08 327.41,261.68 328.94,262.27 330.47,262.86 332.01,263.44 333.54,264.02 335.07,264.59 336.60,265.16 338.13,265.73 339.67,266.29 341.20,266.84 342.73,267.40 344.26,267.94 345.79,268.49 347.32,269.03 348.86,269.56 350.39,270.09 351.92,270.62 353.45,271.15 354.98,271.67 356.52,272.18 358.05,272.69 359.58,273.20 361.11,273.70 362.64,274.21 364.17,274.70 365.71,275.19 367.24,275.68 368.77,276.17 370.30,276.65 371.83,277.13 373.37,277.61 374.90,278.08 376.43,278.55 377.96,279.01 379.49,279.47 381.03,279.93 382.56,280.39 384.09,280.84 385.62,281.29 387.15,281.74 388.68,282.18 390.22,282.62 391.75,283.05 393.28,283.49 394.81,283.92 396.34,284.34 397.88,284.77 399.41,285.19 400.94,285.61 402.47,286.02 404.00,286.43 405.53,286.84 407.07,287.25 408.60,287.65 410.13,288.05 411.66,288.45 413.19,288.84 414.73,289.23 416.26,289.62 417.79,290.00 419.32,290.39 420.85,290.76 422.38,291.14 423.92,291.51 425.45,291.88 426.98,292.25 428.51,292.61 430.04,292.98 431.58,293.34 433.11,293.69 434.64,294.05 436.17,294.40 437.70,294.75 439.23,295.09 440.77,295.43 442.30,295.78 443.83,296.11 445.36,296.45 446.89,296.78 448.43,297.11 449.96,297.44 451.49,297.77 453.02,298.09 454.55,298.41 456.08,298.73 457.62,299.04 459.15,299.36 460.68,299.67 462.21,299.98 463.74,300.28 465.28,300.59 466.81,300.89 468.34,301.19 469.87,301.49 471.40,301.78 472.93,302.08 474.47,302.37 476.00,302.66 477.53,302.94 479.06,303.23 480.59,303.51 482.13,303.79 483.66,304.07 485.19,304.35 486.72,304.62 488.25,304.89 489.78,305.16 491.32,305.43 492.85,305.70 494.38,305.96 495.91,306.23 497.44,306.49 498.98,306.75 500.51,307.00 502.04,307.26 503.57,307.51 505.10,307.76 506.64,308.01 508.17,308.26 509.70,308.51 511.23,308.75 512.76,308.99 514.29,309.23 515.83,309.47 517.36,309.71 518.89,309.95 520.42,310.18 521.95,310.41 523.49,310.64 525.02,310.87 526.55,311.10 528.08,311.33 529.61,311.55 531.14,311.77 532.68,311.99 534.21,312.21 535.74,312.43 537.27,312.65 538.80,312.86 540.34,313.08 541.87,313.29 543.40,313.50 544.93,313.71 546.46,313.92 547.99,314.13 549.53,314.33 551.06,314.53 552.59,314.74 554.12,314.94 555.65,315.14 557.19,315.34 558.72,315.53 560.25,315.73 561.78,315.92 563.31,316.12 564.84,316.31 566.38,316.50 567.91,316.69 569.44,316.88 570.97,317.06 572.50,317.25 574.04,317.43 575.57,317.62 577.10,317.80 578.63,317.98 580.16,318.16 581.69,318.34 583.23,318.52 584.76,318.70 586.29,318.87 587.82,319.05 589.35,319.22 590.89,319.39 592.42,319.57 593.95,319.74 595.48,319.91 597.01,320.07 598.54,320.24 600.08,320.41 601.61,320.58 603.14,320.74 604.67,320.91 606.20,321.07 607.74,321.23 609.27,321.39 610.80,321.56 612.33,321.72 613.86,321.88 615.39,322.03 616.93,322.19 618.46,322.35 619.99,322.51 621.52,322.66 623.05,322.82 624.59,322.97 626.12,323.13 627.65,323.28 629.18,323.44 630.71,323.59 632.25,323.74 633.78,323.89 635.31,324.05 636.84,324.20 638.37,324.35 639.90,324.50 641.44,324.65 642.97,324.80 644.50,324.95 646.03,325.10 647.56,325.25 649.10,325.40 650.63,325.55 652.16,325.70 653.69,325.86 655.22,326.01 656.75,326.16 658.29,326.32 659.82,326.47 661.35,326.63 662.88,326.78 664.41,326.94 665.95,327.10 667.48,327.27 669.01,327.44 670.54,327.61 672.07,327.79 673.60,327.97 675.14,328.17 676.67,328.39 678.20,328.70" fill="none" stroke="#b800c4" stroke-width="1.25" stroke-dasharray="6 2" stroke-linecap="butt" stroke-linejoin="round"/>
<polyline points="67.00,42.31 68.53,44.66 70.06,46.98 71.60,49.29 73.13,51.58 74.66,53.84 76.19,56.09 77.72,58.33 79.25,60.54 80.79,62.74 82.32,64.92 83.85,67.08 85.38,69.22 86.91,71.35 88.45,73.45 89.98,75.55 91.51,77.62 93.04,79.68 94.57,81.72 96.10,83.75 97.64,85.75 99.17,87.75 100.70,89.72 102.23,91.68 103.76,93.63 105.30,95.56 106.83,97.47 108.36,99.37 109.89,101.25 111.42,103.12 112.95,104.97 114.49,106.81 116.02,108.63 117.55,110.44 119.08,112.24 120.61,114.02 122.15,115.78 123.68,117.53 125.21,119.27 126.74,120.99 128.27,122.70 129.81,124.40 131.34,126.08 132.87,127.75 134.40,129.40 135.93,131.05 137.46,132.67 139.00,134.29 140.53,135.89 142.06,137.48 143.59,139.06 145.12,140.63 146.66,142.18 148.19,143.72 149.72,145.25 151.25,146.76 152.78,148.26 154.31,149.76 155.85,151.23 157.38,152.70 158.91,154.16 160.44,155.60 161.97,157.03 163.51,158.46 165.04,159.87 166.57,161.26 168.10,162.65 169.63,164.03 171.16,165.39 172.70,166.75 174.23,168.09 175.76,169.43 177.29,170.75 178.82,172.06 180.36,173.36 181.89,174.66 183.42,175.94 184.95,177.21 186.48,178.47 188.01,179.72 189.55,180.96 191.08,182.19 192.61,183.41 194.14,184.62 195.67,185.83 197.21,187.02 198.74,188.20 200.27,189.38 201.80,190.54 203.33,191.70 204.86,192.84 206.40,193.98 207.93,195.11 209.46,196.23 210.99,197.34 212.52,198.44 214.06,199.53 215.59,200.62 217.12,201.69 218.65,202.76 220.18,203.82 221.71,204.87 223.25,205.91 224.78,206.95 226.31,207.97 227.84,208.99 229.37,210.00 230.91,211.00 232.44,211.99 233.97,212.98 235.50,213.96 237.03,214.93 238.56,215.89 240.10,216.85 241.63,217.80 243.16,218.74 244.69,219.67 246.22,220.59 247.76,221.51 249.29,222.42 250.82,223.33 252.35,224.23 253.88,225.12 255.42,226.00 256.95,226.88 258.48,227.74 260.01,228.61 261.54,229.46 263.07,230.31 264.61,231.15 266.14,231.99 267.67,232.82 269.20,233.64 270.73,234.46 272.27,235.27 273.80,236.07 275.33,236.87 276.86,237.66 278.39,238.44 279.92,239.22 281.46,240.00 282.99,240.76 284.52,241.52 286.05,242.28 287.58,243.03 289.12,243.77 290.65,244.51 292.18,245.24 293.71,245.97 295.24,246.69 296.77,247.40 298.31,248.11 299.84,248.81 301.37,249.51 302.90,250.20 304.43,250.89 305.97,251.57 307.50,252.25 309.03,252.92 310.56,253.59 312.09,254.25 313.62,254.90 315.16,255.55 316.69,256.20 318.22,256.84 319.75,257.48 321.28,258.11 322.82,258.73 324.35,259.35 325.88,259.97 327.41,260.58 328.94,261.19 330.47,261.79 332.01,262.39 333.54,262.98 335.07,263.57 336.60,264.15 338.13,264.73 339.67,265.31 341.20,265.88 342.73,266.44 344.26,267.01 345.79,267.56 347.32,268.12 348.86,268.67 350.39,269.21 351.92,269.75 353.45,270.29 354.98,270.82 356.52,271.35 358.05,271.87 359.58,272.39 361.11,272.91 362.64,273.42 364.17,273.93 365.71,274.43 367.24,274.93 368.77,275.43 370.30,275.92 371.83,276.41 373.37,276.89 374.90,277.37 376.43,277.85 377.96,278.33 379.49,278.80 381.03,279.26 382.56,279.73 384.09,280.19 385.62,280.64 387.15,281.10 388.68,281.55 390.22,281.99 391.75,282.43 393.28,282.87 394.81,283.31 396.34,283.74 397.88,284.17 399.41,284.60 400.94,285.02 402.47,285.44 404.00,285.85 405.53,286.27 407.07,286.68 408.60,287.09 410.13,287.49 411.66,287.89 413.19,288.29 414.73,288.68 416.26,289.07 417.79,289.46 419.32,289.85 420.85,290.23 422.38,290.61 423.92,290.99 425.45,291.36 426.98,291.73 428.51,292.10 430.04,292.47 431.58,292.83 433.11,293.19 434.64,293.55 436.17,293.91 437.70,294.26 439.23,294.61 440.77,294.96 442.30,295.30 443.83,295.64 445.36,295.98 446.89,296.32 448.43,296.65 449.96,296.98 451.49,297.31 453.02,297.64 454.55,297.97 456.08,298.29 457.62,298.61 459.15,298.93 460.68,299.24 462.21,299.55 463.74,299.86 465.28,300.17 466.81,300.48 468.34,300.78 469.87,301.08 471.40,301.38 472.93,301.68 474.47,301.97 476.00,302.27 477.53,302.56 479.06,302.84 480.59,303.13 482.13,303.41 483.66,303.70 485.19,303.98 486.72,304.25 488.25,304.53 489.78,304.80 491.32,305.08 492.85,305.35 494.38,305.61 495.91,305.88 497.44,306.14 498.98,306.41 500.51,306.67 502.04,306.92 503.57,307.18 505.10,307.44 506.64,307.69 508.17,307.94 509.70,308.19 511.23,308.44 512.76,308.68 514.29,308.93 515.83,309.17 517.36,309.41 518.89,309.65 520.42,309.89 521.95,310.12 523.49,310.35 525.02,310.59 526.55,310.82 528.08,311.05 529.61,311.27 531.14,311.50 532.68,311.72 534.21,311.95 535.74,312.17 537.27,312.39 538.80,312.61 540.34,312.82 541.87,313.04 543.40,313.25 544.93,313.46 546.46,313.67 547.99,313.88 549.53,314.09 551.06,314.30 552.59,314.50 554.12,314.71 555.65,314.91 557.19,315.11 558.72,315.31 560.25,315.51 561.78,315.71 563.31,315.90 564.84,316.10 566.38,316.29 567.91,316.48 569.44,316.67 570.97,316.86 572.50,317.05 574.04,317.24 575.57,317.42 577.10,317.61 578.63,317.79 580.16,317.98 581.69,318.16 583.23,318.34 584.76,318.52 586.29,318.70 587.82,318.87 589.35,319.05 590.89,319.23 592.42,319.40 593.95,319.57 595.48,319.75 597.01,319.92 598.54,320.09 600.08,320.26 601.61,320.43 603.14,320.59 604.67,320.76 606.20,320.93 607.74,321.09 609.27,321.26 610.80,321.42 612.33,321.58 613.86,321.74 615.39,321.91 616.93,322.07 618.46,322.23 619.99,322.39 621.52,322.55 623.05,322.70 624.59,322.86 626.12,323.02 627.65,323.17 629.18,323.33 630.71,323.49 632.25,323.64 633.78,323.80 635.31,323.95 636.84,324.10 638.37,324.26 639.90,324.41 641.44,324.56 642.97,324.72 644.50,324.87 646.03,325.02 647.56,325.18 649.10,325.33 650.63,325.48 652.16,325.64 653.69,325.79 655.22,325.95 656.75,326.10 658.29,326.26 659.82,326.42 661.35,326.58 662.88,326.74 664.41,326.90 665.95,327.06 667.48,327.23 669.01,327.40 670.54,327.58 672.07,327.76 673.60,327.95 675.14,328.16 676.67,328.39 678.20,328.70" fill="none" stroke="#b800c4" stroke-width="1.35" stroke-linecap="butt" stroke-linejoin="round"/>
</g>
<g stroke="#000" stroke-width="1.6">
<line x1="219.80" y1="328.7" x2="219.80" y2="324.09999999999997"/>
<line x1="219.80" y1="8.0" x2="219.80" y2="12.6"/>
<line x1="372.60" y1="328.7" x2="372.60" y2="324.09999999999997"/>
<line x1="372.60" y1="8.0" x2="372.60" y2="12.6"/>
<line x1="525.40" y1="328.7" x2="525.40" y2="324.09999999999997"/>
<line x1="525.40" y1="8.0" x2="525.40" y2="12.6"/>
<line x1="67.0" y1="264.56" x2="73.0" y2="264.56"/>
<line x1="678.2" y1="264.56" x2="671.7" y2="264.56"/>
<line x1="67.0" y1="200.42" x2="73.0" y2="200.42"/>
<line x1="678.2" y1="200.42" x2="671.7" y2="200.42"/>
<line x1="67.0" y1="136.28" x2="73.0" y2="136.28"/>
<line x1="678.2" y1="136.28" x2="671.7" y2="136.28"/>
<line x1="67.0" y1="72.14" x2="73.0" y2="72.14"/>
<line x1="678.2" y1="72.14" x2="671.7" y2="72.14"/>
</g>
<rect x="67.0" y="8.0" width="611.20" height="320.70" fill="none" stroke="#000" stroke-width="2"/>
<line x1="308.1" y1="212.1" x2="252.5" y2="271.4" stroke="#000" stroke-width="1.9"/><polygon points="248.2,276.2 251.3,266.3 255.6,268.9 260.2,270.8" fill="#000"/>
<g style="will-change:transform">
<text transform="translate(50.09,334.90) scale(1.31,1)" font-size="18">0</text>
<text transform="translate(30.42,270.76) scale(1.31,1)" font-size="18">0.2</text>
<text transform="translate(30.42,206.62) scale(1.31,1)" font-size="18">0.4</text>
<text transform="translate(30.42,142.48) scale(1.31,1)" font-size="18">0.6</text>
<text transform="translate(30.42,78.34) scale(1.31,1)" font-size="18">0.8</text>
<path transform="translate(49.22,14.30) scale(0.02358,-0.01800)" d="M271 0H359V703H292C277 650 230 600 101 584V514C180 522 240 545 271 585Z"/>
<text transform="translate(59.74,348.00) scale(1.31,1)" font-size="18">0</text>
<text transform="translate(203.41,348.00) scale(1.31,1)" font-size="18">0</text><text transform="translate(216.52,348.00) scale(1.31,1)" font-size="18">.</text><text transform="translate(223.08,348.00) scale(1.31,1)" font-size="18">5</text>
<path transform="translate(365.09,348.00) scale(0.02358,-0.01800)" d="M271 0H359V703H292C277 650 230 600 101 584V514C180 522 240 545 271 585Z"/>
<path transform="translate(509.01,348.00) scale(0.02358,-0.01800)" d="M271 0H359V703H292C277 650 230 600 101 584V514C180 522 240 545 271 585Z"/><text transform="translate(522.12,348.00) scale(1.31,1)" font-size="18">.</text><text transform="translate(528.68,348.00) scale(1.31,1)" font-size="18">5</text>
<text transform="translate(671.64,348.00) scale(1.31,1)" font-size="18">2</text>
<text transform="translate(265.11,143.40) scale(1.26,1)" font-size="13.6">W</text><text transform="translate(281.04,143.40) scale(1.26,1)" font-size="13.6">e</text><text transform="translate(294.84,143.40) scale(1.26,1)" font-size="13.6">=</text><text transform="translate(309.11,143.40) scale(1.26,1)" font-size="13.6">0</text><text transform="translate(318.39,143.40) scale(1.26,1)" font-size="13.6">.</text><text transform="translate(322.91,143.40) scale(1.26,1)" font-size="13.6">2</text><text transform="translate(332.19,143.40) scale(1.26,1)" font-size="13.6">,</text><text transform="translate(341.22,143.40) scale(1.26,1)" font-size="13.6">0</text><text transform="translate(350.50,143.40) scale(1.26,1)" font-size="13.6">.</text><text transform="translate(355.01,143.40) scale(1.26,1)" font-size="13.6">6</text><text transform="translate(364.29,143.40) scale(1.26,1)" font-size="13.6">,</text><path transform="translate(373.33,143.40) scale(0.01714,-0.01360)" d="M271 0H359V703H292C277 650 230 600 101 584V514C180 522 240 545 271 585Z"/><text transform="translate(382.60,143.40) scale(1.26,1)" font-size="13.6">.</text><text transform="translate(387.12,143.40) scale(1.26,1)" font-size="13.6">2</text><text transform="translate(396.40,143.40) scale(1.26,1)" font-size="13.6">,</text><path transform="translate(405.43,143.40) scale(0.01714,-0.01360)" d="M271 0H359V703H292C277 650 230 600 101 584V514C180 522 240 545 271 585Z"/><text transform="translate(414.71,143.40) scale(1.26,1)" font-size="13.6">.</text><text transform="translate(419.23,143.40) scale(1.26,1)" font-size="13.6">6</text>
<text transform="translate(264.59,171.80) scale(1.26,1)" font-size="13.6">M</text><text transform="translate(283.09,171.80) scale(1.26,1)" font-size="13.6">=</text><text transform="translate(297.32,171.80) scale(1.26,1)" font-size="13.6">0</text><text transform="translate(306.57,171.80) scale(1.26,1)" font-size="13.6">.</text><text transform="translate(311.06,171.80) scale(1.26,1)" font-size="13.6">0</text><text transform="translate(320.32,171.80) scale(1.26,1)" font-size="13.6">,</text><text transform="translate(329.30,171.80) scale(1.26,1)" font-size="13.6">0</text><text transform="translate(338.56,171.80) scale(1.26,1)" font-size="13.6">.</text><text transform="translate(343.05,171.80) scale(1.26,1)" font-size="13.6">5</text><text transform="translate(352.31,171.80) scale(1.26,1)" font-size="13.6">,</text><path transform="translate(361.29,171.80) scale(0.01714,-0.01360)" d="M271 0H359V703H292C277 650 230 600 101 584V514C180 522 240 545 271 585Z"/><text transform="translate(370.55,171.80) scale(1.26,1)" font-size="13.6">.</text><text transform="translate(375.04,171.80) scale(1.26,1)" font-size="13.6">0</text><text transform="translate(384.29,171.80) scale(1.26,1)" font-size="13.6">,</text><path transform="translate(393.28,171.80) scale(0.01714,-0.01360)" d="M271 0H359V703H292C277 650 230 600 101 584V514C180 522 240 545 271 585Z"/><text transform="translate(402.53,171.80) scale(1.26,1)" font-size="13.6">.</text><text transform="translate(407.03,171.80) scale(1.26,1)" font-size="13.6">5</text>
<text transform="translate(364.16,366.9) scale(1.55,1)" class="serif" font-size="17.8">&#951;</text>
<text transform="translate(19.8,187.40) scale(1.31,1) rotate(-90) scale(1.0,1)" font-size="18">g</text>
<line x1="2.3" y1="175.8" x2="7.0" y2="175.8" stroke="#000" stroke-width="2"/>
<text transform="translate(19.8,173.80) scale(1.31,1) rotate(-90) scale(1.0,1)" font-size="18">(</text>
<text transform="translate(19.8,168.20) scale(1.31,1) rotate(-90) scale(1.2,1)" font-size="17.8" class="serif">&#951;</text>
<text transform="translate(19.8,158.30) scale(1.31,1) rotate(-90) scale(1.0,1)" font-size="18">)</text>
</g>
</svg>
</body></html>
